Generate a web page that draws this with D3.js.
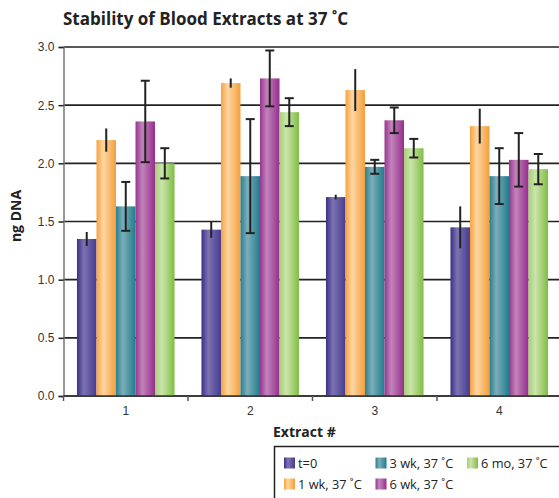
<!DOCTYPE html>
<html>
<head>
<meta charset="utf-8">
<script src="https://cdn.jsdelivr.net/npm/d3@7"></script>
<style>
  body { margin: 0; background: #fff; }
  svg { display: block; font-family: "Open Sans", "Noto Sans", sans-serif; }
  .tick text { fill: #333; font-size: 12px; }
</style>
</head>
<body>
<div class="chart"></div>
<script>
// chart data
var extracts = ["1", "2", "3", "4"];
var seriesNames = ["t=0", "1 wk, 37 ˚C", "3 wk, 37 ˚C", "6 wk, 37 ˚C", "6 mo, 37 ˚C"];
var valT0   = [1.35, 1.43, 1.71, 1.45];
var val1wk  = [2.20, 2.69, 2.63, 2.32];
var val3wk  = [1.63, 1.89, 1.97, 1.89];
var val6wk  = [2.36, 2.73, 2.37, 2.03];
var val6mo  = [2.00, 2.44, 2.13, 1.95];
var errT0   = [0.06, 0.07, 0.02, 0.18];
var err1wk  = [0.10, 0.04, 0.18, 0.15];
var err3wk  = [0.21, 0.49, 0.06, 0.24];
var err6wk  = [0.35, 0.24, 0.11, 0.23];
var err6mo  = [0.13, 0.12, 0.08, 0.13];
var yTicks  = [0, 0.5, 1.0, 1.5, 2.0, 2.5, 3.0];

var values = [valT0, val1wk, val3wk, val6wk, val6mo];
var errors = [errT0, err1wk, err3wk, err6wk, err6mo];
// dark edge, light highlight, right edge
var shades = [
  ["#3a2f86", "#7d73b2", "#463c90"],
  ["#f6a240", "#fdd6a2", "#f49f3c"],
  ["#27808f", "#7eadba", "#1f7d8b"],
  ["#983690", "#c184ba", "#962e8d"],
  ["#a6cf78", "#cbe4ab", "#7fbd45"]
];
var hasCaps = [false, false, true, true, true];

var svgWidth = 559, svgHeight = 498;
var margin = {top: 47, left: 63.5};
var plotH = 349;

var svg = d3.select(".chart").append("svg")
  .attr("width", svgWidth)
  .attr("height", svgHeight);

var defs = svg.append("defs");
shades.forEach(function(s, i) {
  var g = defs.append("linearGradient")
    .attr("id", "grad" + i)
    .attr("x1", "0%").attr("x2", "100%").attr("y1", "0%").attr("y2", "0%");
  g.append("stop").attr("offset", "0%").attr("stop-color", s[0]);
  g.append("stop").attr("offset", "35%").attr("stop-color", s[1]);
  g.append("stop").attr("offset", "100%").attr("stop-color", s[2]);
});

var x0 = d3.scaleBand().domain(extracts).range([margin.left, margin.left + 4 * 124.5]);
var x1 = d3.scaleBand().domain(d3.range(5))
  .range([0, x0.bandwidth()])
  .paddingInner(0)
  .paddingOuter(0.69);
var y = d3.scaleLinear().domain([0, 3]).range([margin.top + plotH, margin.top]);

// gridlines
svg.append("g").selectAll("line")
  .data(yTicks)
  .enter().append("line")
  .attr("x1", margin.left).attr("x2", svgWidth)
  .attr("y1", function(d) { return y(d); })
  .attr("y2", function(d) { return y(d); })
  .attr("stroke", "#222")
  .attr("stroke-width", 1.6);

// y axis
var yAxis = svg.append("g")
  .attr("transform", "translate(" + margin.left + ",0)")
  .call(d3.axisLeft(y).tickValues(yTicks).tickFormat(d3.format(".1f")).tickSize(5).tickPadding(4));
yAxis.select(".domain").attr("stroke", "#777").attr("stroke-width", 1.5);
yAxis.selectAll(".tick line").attr("stroke", "#222").attr("stroke-width", 1.5);

// bars
var groups = svg.append("g").selectAll("g")
  .data(extracts)
  .enter().append("g")
  .attr("transform", function(d) { return "translate(" + x0(d) + ",0)"; });

groups.selectAll("rect")
  .data(function(d, j) { return values.map(function(v, i) { return {s: i, v: v[j], e: errors[i][j]}; }); })
  .enter().append("rect")
  .attr("x", function(d) { return x1(d.s); })
  .attr("width", x1.bandwidth())
  .attr("y", function(d) { return y(d.v); })
  .attr("height", function(d) { return y(0) - y(d.v); })
  .attr("fill", function(d) { return "url(#grad" + d.s + ")"; });

// error bars
groups.each(function(d, j) {
  var g = d3.select(this);
  values.forEach(function(v, i) {
    var cx = x1(i) + x1.bandwidth() / 2;
    var top = y(v[j] + errors[i][j]), bot = y(v[j] - errors[i][j]);
    g.append("line")
      .attr("x1", cx).attr("x2", cx).attr("y1", top).attr("y2", bot)
      .attr("stroke", "#222").attr("stroke-width", 2);
    if (hasCaps[i]) {
      [top, bot].forEach(function(yy) {
        g.append("line")
          .attr("x1", cx - 4.5).attr("x2", cx + 4.5).attr("y1", yy).attr("y2", yy)
          .attr("stroke", "#222").attr("stroke-width", 2);
      });
    }
  });
});

// x axis
var xAxis = svg.append("g")
  .attr("transform", "translate(0," + y(0) + ")")
  .call(d3.axisBottom(x0).tickSize(0).tickPadding(10));
xAxis.select(".domain").remove();
svg.append("line")
  .attr("x1", margin.left).attr("x2", svgWidth)
  .attr("y1", y(0)).attr("y2", y(0))
  .attr("stroke", "#333").attr("stroke-width", 1.6);
svg.append("g").selectAll("line")
  .data(extracts)
  .enter().append("line")
  .attr("x1", function(d) { return x0(d); })
  .attr("x2", function(d) { return x0(d); })
  .attr("y1", y(0)).attr("y2", y(0) + 5)
  .attr("stroke", "#555").attr("stroke-width", 1.5);

// titles
svg.append("text")
  .attr("x", 63).attr("y", 25)
  .attr("font-size", 17).attr("font-weight", "bold").attr("fill", "#222")
  .text("Stability of Blood Extracts at 37 ˚C");

svg.append("text")
  .attr("transform", "translate(21,216) rotate(-90)")
  .attr("text-anchor", "middle")
  .attr("font-size", 14).attr("font-weight", "bold").attr("fill", "#222")
  .text("ng DNA");

svg.append("text")
  .attr("x", 273).attr("y", 437)
  .attr("font-size", 14).attr("font-weight", "bold").attr("fill", "#222")
  .text("Extract #");

// legend
var legend = svg.append("g");
legend.append("rect")
  .attr("x", 274.5).attr("y", 446.5)
  .attr("width", 300).attr("height", 70)
  .attr("fill", "none").attr("stroke", "#222").attr("stroke-width", 1.5);
var colX = [284, 375.5, 467];
var rowY = [463, 484];
var items = legend.selectAll("g.item")
  .data(seriesNames)
  .enter().append("g")
  .attr("class", "item")
  .attr("transform", function(d, i) {
    return "translate(" + colX[Math.floor(i / 2)] + "," + rowY[i % 2] + ")";
  });
items.append("rect")
  .attr("x", 0).attr("y", -5.5).attr("width", 11).attr("height", 11)
  .attr("fill", function(d, i) { return "url(#grad" + i + ")"; });
items.append("text")
  .attr("x", 14).attr("y", 4.5)
  .attr("font-size", 12.8).attr("fill", "#222")
  .text(function(d) { return d; });
</script>
</body>
</html>
